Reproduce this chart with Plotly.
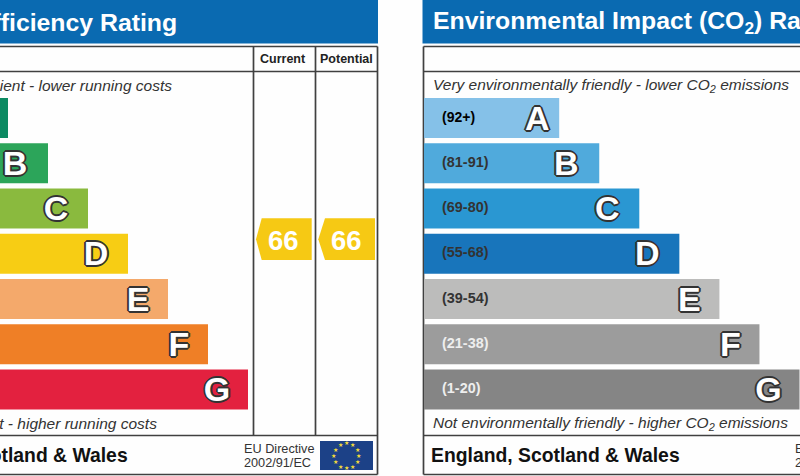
import math
import plotly.graph_objects as go

W, H = 800, 476

grades = ["A", "B", "C", "D", "E", "F", "G"]
bar_lengths = [135, 175, 215, 255, 295, 335, 375]
energy_colors = ["#0c8a62", "#2ca55a", "#8aba3e", "#f7cd14", "#f4a96b", "#ef7f26", "#e3213f"]
co2_colors = ["#85c1e8", "#50aadc", "#2a97d2", "#1875bb", "#bcbcbb", "#9c9c9c", "#858585"]
co2_ranges = ["(92+)", "(81-91)", "(69-80)", "(55-68)", "(39-54)", "(21-38)", "(1-20)"]
range_colors = ["#000000", "#333333", "#333333", "#333333", "#333333", "#eeeeee", "#eeeeee"]
range_sizes = [14, 14.4, 14.4, 14.4, 14.4, 14.4, 14.4]
current_rating = 66
potential_rating = 66
rating_columns = ["Current", "Potential"]

OUTLINE = ",".join(f"{a}px {b}px 0 #333333" for a in (-2, -1, 0, 1, 2) for b in (-2, -1, 0, 1, 2) if abs(a)+abs(b) < 3)
SANS = "Liberation Sans"
letter_inset = [22, 33, 32, 32, 30, 29, 31]

fig = go.Figure()


def add_panel(colors, xa, ya, first):
    fig.add_trace(go.Bar(
        y=grades, x=bar_lengths, orientation="h", width=0.885,
        marker=dict(color=colors, line=dict(width=0)),
        xaxis=xa, yaxis=ya, showlegend=False, hoverinfo="skip",
    ))
    fig.add_trace(go.Scatter(
        y=grades[first:], x=[v - i for v, i in zip(bar_lengths, letter_inset)][first:], text=grades[first:],
        mode="text", textposition="middle center",
        textfont=dict(family=SANS, size=34, color="white", weight="bold", shadow=OUTLINE),
        xaxis=xa, yaxis="y3", showlegend=False, hoverinfo="skip",
    ))


add_panel(energy_colors, "x", "y", 1)
add_panel(co2_colors, "x2", "y2", 0)

# range labels, right panel
fig.add_trace(go.Scatter(
    y=grades, x=[18] * 7, text=co2_ranges, mode="text", textposition="middle right",
    textfont=dict(family=SANS, size=range_sizes, color=range_colors, weight="bold"),
    xaxis="x2", yaxis="y2", showlegend=False, hoverinfo="skip",
))

yrange = [7.91, -2.61]
letter_yrange = [7.844, -2.676]
fig.update_layout(
    width=W, height=H, margin=dict(l=0, r=0, t=0, b=0), autosize=False,
    paper_bgcolor="#fefefe", plot_bgcolor="rgba(0,0,0,0)", barmode="overlay",
    xaxis=dict(domain=[0, 0.5], range=[127, 527], visible=False, fixedrange=True),
    xaxis2=dict(domain=[0.5, 1], range=[-24, 375.5], visible=False, fixedrange=True),
    yaxis=dict(domain=[0, 1], range=yrange, visible=False, type="category", categoryorder="array", categoryarray=grades),
    yaxis2=dict(domain=[0, 1], range=yrange, visible=False, type="category", categoryorder="array", categoryarray=grades, anchor="x2"),
    yaxis3=dict(domain=[0, 1], range=letter_yrange, visible=False, type="category", categoryorder="array", categoryarray=grades, overlaying="y"),
)


def px(x):
    return x / W


def py(y):
    return 1 - y / H


shapes = []


def rect(x0, y0, x1, y1, fill, layer="below"):
    shapes.append(dict(type="rect", xref="paper", yref="paper", x0=px(x0), x1=px(x1), y0=py(y0), y1=py(y1),
                       fillcolor=fill, line=dict(width=0), layer=layer))


def line(x0, y0, x1, y1):
    shapes.append(dict(type="line", xref="paper", yref="paper", x0=px(x0), x1=px(x1), y0=py(y0), y1=py(y1),
                       line=dict(color="#404040", width=1.7), layer="below"))


def tag(left, right, top, bottom, tip):
    mid = (top + bottom) / 2
    pts = [(left, top), (right, top), (right, bottom), (left, bottom), (tip, mid)]
    d = "M " + " L ".join(f"{px(a)} {py(b)}" for a, b in pts) + " Z"
    shapes.append(dict(type="path", xref="paper", yref="paper", path=d, fillcolor="#f6c914", line=dict(width=0), layer="below"))


rect(-5, -5, 378, 43.5, "#0a6ab1")
rect(422.5, -5, 805, 43.5, "#0a6ab1")
# left frame
for y in (46.5, 71.5, 435.5, 474.5):
    line(-5, y, 377.5, y)
for x in (253.5, 315.5, 377.5):
    line(x, 46.5, x, 435.5 if x < 377 else 474.5)
# right frame
for y in (46.5, 71.5, 435.5, 474.5):
    line(423.5, y, 805, y)
line(423.5, 46.5, 423.5, 474.5)
tag(261.7, 311.7, 218.3, 260, 256)
tag(325, 375, 218.3, 260, 318.3)
rect(320, 441, 373, 470, "#1c4187")
fig.update_layout(shapes=shapes)

ann = []


def text(x, y, s, size, color="#333333", anchor="left", **font):
    ann.append(dict(x=px(x), y=py(y), xref="paper", yref="paper", text=s, showarrow=False,
                    xanchor=anchor, yanchor="middle", align=anchor, borderpad=0, borderwidth=0,
                    font=dict(family=SANS, size=size, color=color, **font)))


text(177, 22, "Energy Efficiency Rating", 24.8, "white", "right", weight="bold")
text(433, 22, "Environmental Impact (CO<sub>2</sub>) Rating", 24.8, "white", "left", weight="bold")
text(283, 59, rating_columns[0], 12.5, "#222222", "center", weight="bold")
text(346, 59, rating_columns[1], 12.5, "#222222", "center", weight="bold")
text(172, 85, "Very energy efficient - lower running costs", 15.5, anchor="right", style="italic")
text(157, 423, "Not energy efficient - higher running costs", 15.5, anchor="right", style="italic")
text(433, 85, "Very environmentally friendly - lower CO<sub>2</sub> emissions", 15.5, style="italic")
text(433, 423, "Not environmentally friendly - higher CO<sub>2</sub> emissions", 15.5, style="italic")
text(128, 454.5, "England, Scotland & Wales", 19.35, "#111111", "right", weight="bold")
text(431, 454.5, "England, Scotland & Wales", 19.35, "#111111", weight="bold")
text(243.5, 449, "EU Directive", 12.7)
text(243.5, 463, "2002/91/EC", 12.7)
text(795, 449, "EU Directive", 12.7)
text(795, 463, "2002/91/EC", 12.7)
text(283, 240, str(current_rating), 27.5, "white", "center", weight="bold")
text(346.7, 240, str(potential_rating), 27.5, "white", "center", weight="bold")
for k in range(12):
    a = math.radians(30 * k)
    ann.append(dict(x=px(346.3 + 12.5 * math.cos(a)), y=py(455.3 + 12.5 * math.sin(a)), xref="paper", yref="paper",
                    text="★", showarrow=False, xanchor="center", yanchor="middle",
                    font=dict(family="DejaVu Sans", size=6, color="#f2dc3c")))
fig.update_layout(annotations=ann)

fig.write_html("out.html", config=dict(displayModeBar=False),
               post_script="document.body.style.margin='0';document.documentElement.style.overflow='hidden';")
